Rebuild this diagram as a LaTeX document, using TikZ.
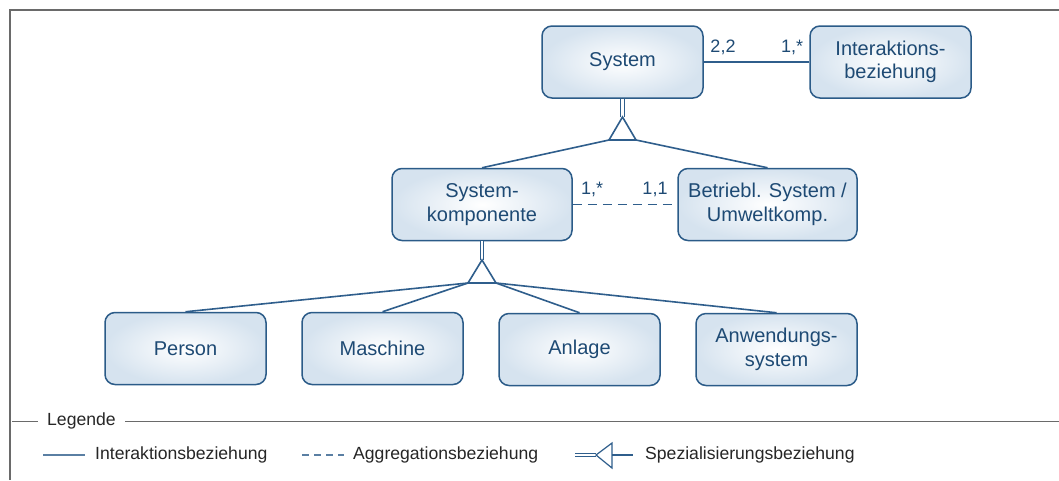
\documentclass[tikz,border=0pt]{standalone}
\usepackage{fontspec}
\setmainfont{Liberation Sans}
\usetikzlibrary{positioning}
\definecolor{boxline}{HTML}{2B5B88}
\definecolor{boxtext}{HTML}{1E4A74}
\definecolor{boxout}{HTML}{D6E3EF}
\definecolor{relline}{HTML}{2F5E8C}
\definecolor{legline}{HTML}{5A7FA3}
\definecolor{frame}{HTML}{6A6A6A}
\tikzset{
  entity/.style={draw=boxline, line width=1.5pt, rounded corners=10pt,
    shading=radial, inner color=white, outer color=boxout,
    minimum width=161pt, minimum height=72pt, align=center,
    text=boxtext, font=\fontsize{20}{23.5}\selectfont, inner sep=0pt},
  rel/.style={draw=relline, line width=1.6pt},
  aggr/.style={rel, dash pattern=on 9pt off 6pt},
  spec/.style={draw=relline, line width=1.6pt, line join=miter},
  specdouble/.style={draw=relline, double=white, double distance=2.6pt, line width=1.1pt},
  card/.style={text=boxtext, font=\fontsize{18}{20}\selectfont, inner sep=0pt},
  legtext/.style={text=black!85, font=\fontsize{17.6}{20}\selectfont, inner sep=0pt, anchor=west},
  legframe/.style={draw=frame, line width=1.4pt},
}
\begin{document}
\begin{tikzpicture}[x=1pt, y=-1pt]
\useasboundingbox (0,0) rectangle (1059,480);
\fill[white] (0,0) rectangle (1059,480);

% outer frame
\draw[legframe] (10,480) -- (10,10) -- (1059,10);

% entity boxes
\node[entity] (sys) at (622.5,62) {System};
\node[entity] (ia) at (890.5,62) {Interaktions-\\beziehung};
\node[entity, minimum width=180pt] (sk) at (482,204.5) {System-\\komponente};
\node[entity, minimum width=179pt] (bs) at (767.5,204.5) {Betriebl. System /\\Umweltkomp.};
\node[entity] (person) at (185.5,348.5) {Person};
\node[entity] (masch) at (382.5,348.5) {Maschine};
\node[entity] (anl) at (579.5,349.5) {Anlage};
\node[entity] (anw) at (776.5,349.5) {Anwendungs-\\system};

% interaction between System and Interaktionsbeziehung
\draw[rel] (sys.east) -- (ia.west);
\node[card, anchor=south] (c22) at (723,55) {2,2};
\node[card, anchor=south] (c1s) at (792,55) {1,*};

% aggregation between Systemkomponente and Betriebl. System
\draw[aggr] (sk.east) -- (bs.west);
\node[card, anchor=south] (c1sb) at (592,197) {1,*};
\node[card, anchor=south] (c11) at (655,197) {1,1};

% specialisation of System
\coordinate (t1a) at (622.5,117);
\coordinate (t1l) at (609,140);
\coordinate (t1r) at (636,140);
\draw[specdouble] (sys.south) -- (t1a);
\draw[spec] (t1a) -- (t1l) -- (t1r) -- cycle;
\draw[rel] (t1l) -- (sk.north);
\draw[rel] (t1r) -- (bs.north);

% specialisation of Systemkomponente
\coordinate (t2a) at (482,260);
\coordinate (t2l) at (468,283);
\coordinate (t2r) at (496,283);
\draw[specdouble] (sk.south) -- (t2a);
\draw[spec] (t2a) -- (t2l) -- (t2r) -- cycle;
\draw[rel] (t2l) -- (person.north);
\draw[rel] (t2l) -- (masch.north);
\draw[rel] (t2r) -- (anl.north);
\draw[rel] (t2r) -- (anw.north);

% legend
\node[legtext] (leg) at (47,421) {Legende};
\coordinate (lg0) at (12,421);
\coordinate (lg1) at (1059,421);
\draw[legframe, line width=1pt] (lg0) -- (leg.west -| 38,0);
\draw[legframe, line width=1pt] (leg.east -| 125,0) -- (lg1);

\coordinate (l1a) at (43,455);
\coordinate (l1b) at (85,455);
\draw[draw=legline, line width=1.8pt] (l1a) -- (l1b);
\node[legtext] (lt1) at (95,455) {Interaktionsbeziehung};

\coordinate (l2a) at (302,455);
\coordinate (l2b) at (344,455);
\draw[draw=legline, line width=1.8pt, dash pattern=on 7pt off 5pt] (l2a) -- (l2b);
\node[legtext] (lt2) at (353,455) {Aggregationsbeziehung};

\coordinate (l3a) at (575,455);
\coordinate (l3t) at (596,455);
\coordinate (l3u) at (612,443);
\coordinate (l3d) at (612,468);
\coordinate (l3m) at (612,455);
\coordinate (l3b) at (633,455);
\draw[specdouble, line width=1pt] (l3a) -- (l3t);
\draw[spec, line width=1.2pt] (l3t) -- (l3u) -- (l3d) -- cycle;
\draw[spec, line width=1.2pt] (l3m) -- (l3b);
\node[legtext] (lt3) at (645,455) {Spezialisierungsbeziehung};
\end{tikzpicture}
\end{document}
